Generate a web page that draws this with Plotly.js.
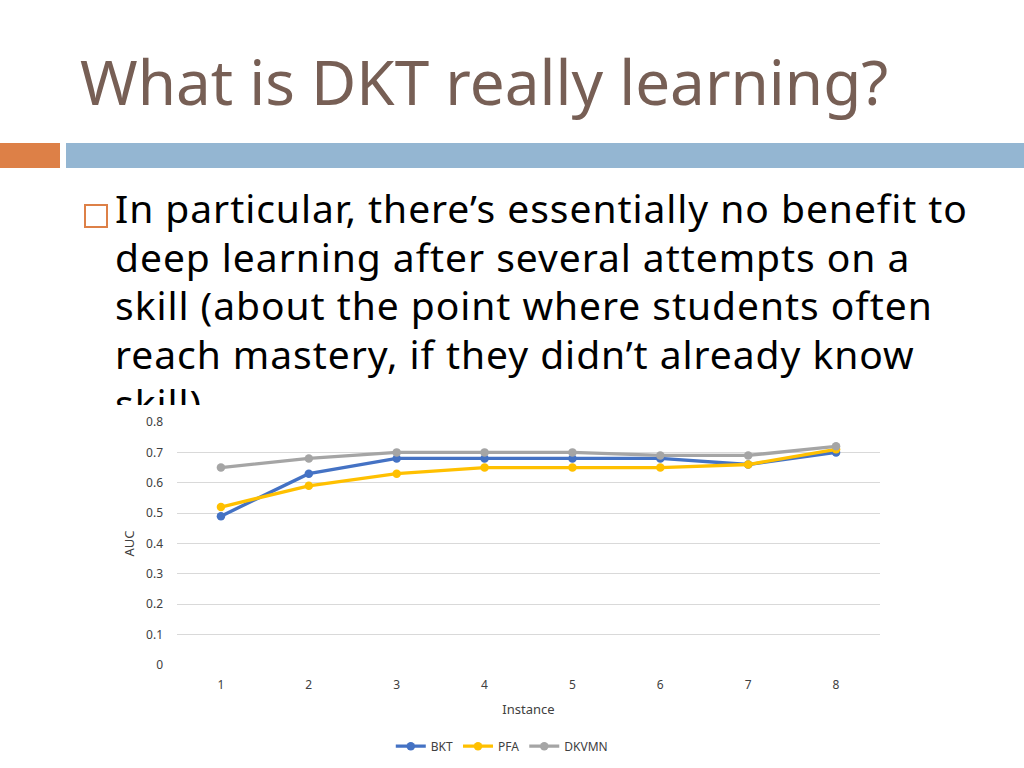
<!DOCTYPE html>
<html>
<head>
<meta charset="utf-8">
<script src="https://cdn.plot.ly/plotly-3.0.1.min.js"></script>
<style>
  html, body { margin: 0; padding: 0; background: #fff; }
  body { width: 1024px; height: 768px; position: relative; overflow: hidden; font-family: "Noto Sans", sans-serif; }
  #title { position: absolute; left: 80px; top: 39px; font-size: 62px; color: #775F55; white-space: nowrap; }
  #barOrange { position: absolute; left: 0; top: 143px; width: 60px; height: 25px; background: #DD8047; }
  #barBlue { position: absolute; left: 66px; top: 143px; width: 958px; height: 25px; background: #94B6D2; }
  #bullet { position: absolute; left: 84px; top: 204px; width: 20px; height: 20px; border: 2px solid #DD8047; }
  #body { position: absolute; left: 115px; top: 184px; width: 905px; font-size: 39px; letter-spacing: 0.95px; line-height: 48.7px; color: #000; white-space: nowrap; }
  #clip { position: absolute; left: 115px; top: 380px; width: 300px; height: 25px; overflow: hidden; }
  #clip div { position: relative; top: -1.2px; font-size: 39px; letter-spacing: 0.95px; line-height: 48.7px; color: #000; }
  #chart { position: absolute; left: 110px; top: 405px; width: 790px; height: 363px; background: #fff; }
</style>
</head>
<body>
<div id="title">What is DKT really learning?</div>
<div id="barOrange"></div>
<div id="barBlue"></div>
<div id="bullet"></div>
<div id="body">In particular, there’s essentially no benefit to<br>deep learning after several attempts on a<br>skill (about the point where students often<br>reach mastery, if they didn’t already know</div>
<div id="clip"><div>skill).</div></div>
<div id="chart"></div>
<script>
// AUC by instance
const instances = ["1", "2", "3", "4", "5", "6", "7", "8"];
const bkt = [0.49, 0.63, 0.68, 0.68, 0.68, 0.68, 0.66, 0.70];
const pfa = [0.52, 0.59, 0.63, 0.65, 0.65, 0.65, 0.66, 0.71];
const dkvmn = [0.65, 0.68, 0.70, 0.70, 0.70, 0.69, 0.69, 0.72];

function series(name, y, color) {
    return {
        x: instances,
        y: y,
        name: name,
        type: "scatter",
        mode: "lines+markers",
        line: { color: color, width: 3.3 },
        marker: { color: color, size: 8.5 }
    };
}

const traces = [
    series("BKT", bkt, "#4472C4"),
    series("PFA", pfa, "#FFC000"),
    series("DKVMN", dkvmn, "#A5A5A5")
];

const layout = {
    width: 790,
    height: 363,
    margin: { l: 67, r: 20, t: 17, b: 103 },
    paper_bgcolor: "#fff",
    plot_bgcolor: "#fff",
    font: { family: "Noto Sans, sans-serif", size: 12, color: "#404040" },
    showlegend: true,
    legend: {
        orientation: "h",
        xref: "paper", x: 0.462, xanchor: "center",
        yref: "container", y: 0.06, yanchor: "middle",
        font: { size: 12, color: "#404040" },
        itemwidth: 30
    },
    xaxis: {
        type: "category",
        range: [-0.5, 7.5],
        automargin: false,
        showgrid: false,
        zeroline: false,
        showline: false,
        ticks: "",
        ticklabelstandoff: 11,
        title: { text: "Instance", font: { size: 13, color: "#404040" }, standoff: 12 }
    },
    yaxis: {
        range: [0, 0.8],
        dtick: 0.1,
        automargin: false,
        showgrid: true,
        gridcolor: "#D9D9D9",
        gridwidth: 1,
        zeroline: false,
        showline: false,
        ticks: "",
        ticklabelstandoff: 13,
        title: { text: "AUC", font: { size: 13, color: "#404040" }, standoff: 8 }
    }
};

Plotly.newPlot("chart", traces, layout, { displayModeBar: false, staticPlot: true });
</script>
</body>
</html>
